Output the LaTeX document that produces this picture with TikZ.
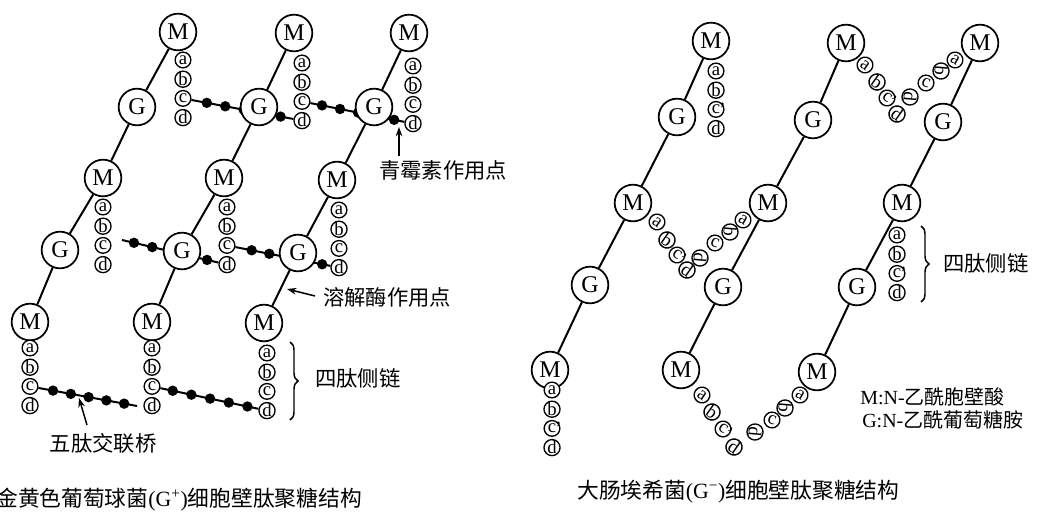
\documentclass[tikz,border=0pt]{standalone}
\usepackage{fontspec}
\setmainfont{Liberation Serif}
\newfontfamily\cjk{Noto Sans CJK SC}
\usetikzlibrary{arrows.meta,decorations.pathreplacing,calc}
\pgfdeclarelayer{bg}
\pgfsetlayers{bg,main}

% c with a prime that does not widen its circle
\newcommand\cprime{c\rlap{\kern-0.6pt\raisebox{-0.25ex}{’}}}

% four amino acids hanging below a muramic acid
\newcommand\pepstack[4]{%
  \node[aa] (#1-a) at (#2,#3) {a};
  \node[aa] (#1-b) at (#2,#3+19.2) {b};
  \node[aa] (#1-c) at (#2,#3+38.4) {#4};
  \node[aa] (#1-d) at (#2,#3+57.6) {d};}

% pentaglycine bridge: a line with five beads
\newcommand\xbridge[5]{%
  \draw[chain] (#2) -- (#3);
  \foreach \k in {0,...,4}
    \node[bead] (#1-\k) at ($(#2)!{#4+(#5-#4)*\k/4}!(#3)$) {};}

\begin{document}
\begin{tikzpicture}[x=0.75pt,y=-0.75pt,
  sugar/.style={circle,draw,fill=white,line width=1.3pt,minimum size=27.5pt,
    inner sep=0pt,font=\fontsize{18}{18}\selectfont},
  aa/.style={circle,draw,fill=white,line width=1pt,minimum size=11.8pt,
    inner sep=0pt,font=\fontsize{14}{14}\selectfont},
  bead/.style={circle,fill=black,minimum size=7.8pt,inner sep=0pt},
  chain/.style={line width=1.5pt},
  lbl/.style={font=\cjk\fontsize{16}{16}\selectfont,inner sep=0pt},
  captxt/.style={font=\fontsize{16.3}{16.3}\selectfont,inner sep=0pt},
  legtxt/.style={font=\fontsize{15}{15}\selectfont,inner sep=0pt},
  pointer/.style={-{Stealth[length=7pt,width=5pt]},line width=1.1pt},
  curly/.style={decorate,decoration={brace,amplitude=6pt},line width=1.1pt},
  larm/.style={aa,rotate=-35},
]
\useasboundingbox (0,0) rectangle (1048,516);

% ---------- Staphylococcus aureus (G+) ----------
\foreach \n/\t/\x/\y in {
  M1-a/M/178/32, G1-a/G/137/107, M1-b/M/103/178, G1-b/G/60/250, M1-c/M/30/322,
  M2-a/M/294/33, G2-a/G/259/107, M2-b/M/224/178, G2-b/G/182/251, M2-c/M/152/322,
  M3-a/M/409/33, G3-a/G/374/107, M3-b/M/337/180, G3-b/G/298/253, M3-c/M/264/323}
  \node[sugar] (\n) at (\x,\y) {\t};

\pepstack{P1a}{183}{60}{c}
\pepstack{P2a}{302}{63}{c}
\pepstack{P3a}{413}{66}{c}
\pepstack{P1b}{103}{207}{c}
\pepstack{P2b}{227}{207}{c}
\pepstack{P3b}{339}{210}{c}
\pepstack{P1c}{30}{348}{c}
\pepstack{P2c}{152}{348}{c}
\pepstack{P3c}{267}{353}{c}

\coordinate (mstart) at (122,240);
\coordinate (bend) at (137,406);

\begin{pgfonlayer}{bg}
  \foreach \q in {1,2,3}
    \draw[chain] (M\q-a) -- (G\q-a) -- (M\q-b) -- (G\q-b) -- (M\q-c);
  \xbridge{X1}{P1a-c}{P2a-d}{0.2}{0.82}
  \xbridge{X2}{P2a-c}{P3a-d}{0.18}{0.83}
  \xbridge{X3}{mstart}{P2b-d}{0.114}{0.81}
  \xbridge{X4}{P2b-c}{P3b-d}{0.22}{0.85}
  \xbridge{X5}{P1c-c}{bend}{0.215}{0.88}
  \xbridge{X6}{P2c-c}{P3c-d}{0.18}{0.83}
\end{pgfonlayer}

% labels with pointers
\node[lbl] (pen) at (443,170) {青霉素作用点};
\coordinate (penTail) at (399,156);
\coordinate (penTip) at (399,127);
\draw[pointer] (penTail) -- (penTip);

\node[lbl] (lys) at (387,297) {溶解酶作用点};
\coordinate (lysTail) at (315,296);
\coordinate (lysTip) at (287,289);
\draw[pointer] (lysTail) -- (lysTip);

\node[lbl] (pent) at (103,443) {五肽交联桥};
\coordinate (pentTail) at (87,425);
\coordinate (pentTip) at (79,398);
\draw[pointer] (pentTail) -- (pentTip);

\coordinate (brL1) at (290,342);
\coordinate (brL2) at (290,420);
\draw[curly] (brL1) -- (brL2);
\node[lbl,anchor=west] (tetL) at (315,378) {四肽侧链};

\node[captxt,anchor=east] (capL) at (362,500)
  {{\cjk 金黄色葡萄球菌}(G\textsuperscript{+}){\cjk 细胞壁肽聚糖结构}};

% ---------- Escherichia coli (G-) ----------
\foreach \n/\t/\x/\y in {
  RM1-a/M/711/41, RG1-a/G/677/117, RM1-b/M/633/203, RG1-b/G/590/285, RM1-c/M/550/370,
  RM2-a/M/846/43, RG2-a/G/813/120, RM2-b/M/768/203, RG2-b/G/723/287, RM2-c/M/681/370,
  RM3-a/M/980/43, RG3-a/G/943/122, RM3-b/M/902/203, RG3-b/G/857/287, RM3-c/M/817/372}
  \node[sugar] (\n) at (\x,\y) {\t};

\begin{pgfonlayer}{bg}
  \foreach \q in {1,2,3}
    \draw[chain] (RM\q-a) -- (RG\q-a) -- (RM\q-b) -- (RG\q-b) -- (RM\q-c);
\end{pgfonlayer}

\pepstack{Q1a}{716}{71}{\cprime}
\pepstack{Q3b}{897}{235}{\cprime}
\pepstack{Q1c}{552}{390}{\cprime}

% directly linked tetrapeptides (V shaped)
\foreach \v/\ax/\ay/\bx/\by/\cx/\cy/\dx/\dy in {
  V1/865/65/877/82/887/98/897/114,
  V2/657/222/667/240/677/255/687/270,
  V3/702/395/712/412/723/429/734/447}{
  \node[larm] (\v L-a) at (\ax,\ay) {a};
  \node[larm] (\v L-b) at (\bx,\by) {b};
  \node[larm] (\v L-c) at (\cx,\cy) {\cprime};
  \node[larm] (\v L-d) at (\dx,\dy) {d};}
\foreach \v/\ax/\ay/\bx/\by/\cx/\cy/\dx/\dy in {
  V1/955/60/941/71/926/83/910/97,
  V2/743/220/730/232/715/243/700/258,
  V3/800/395/785/408/772/420/755/432}{
  \node[aa,rotate=-30] (\v R-a) at (\ax,\ay) {a};
  \node[aa,rotate=-95] (\v R-b) at (\bx,\by) {b};
  \node[aa,rotate=-20] (\v R-c) at (\cx,\cy) {c};
  \node[aa,rotate=-95] (\v R-d) at (\dx,\dy) {d};}

\coordinate (brR1) at (921,226);
\coordinate (brR2) at (921,302);
\draw[curly] (brR1) -- (brR2);
\node[lbl,anchor=west] (tetR) at (943,263) {四肽侧链};

\node[legtxt,anchor=west] (legM) at (860,397) {M:N-{\cjk 乙酰胞壁酸}};
\node[legtxt,anchor=west] (legG) at (862,420) {G:N-{\cjk 乙酰葡萄糖胺}};

\node[captxt,anchor=west] (capR) at (577,492)
  {{\cjk 大肠埃希菌}(G\textsuperscript{−}){\cjk 细胞壁肽聚糖结构}};
\end{tikzpicture}
\end{document}
